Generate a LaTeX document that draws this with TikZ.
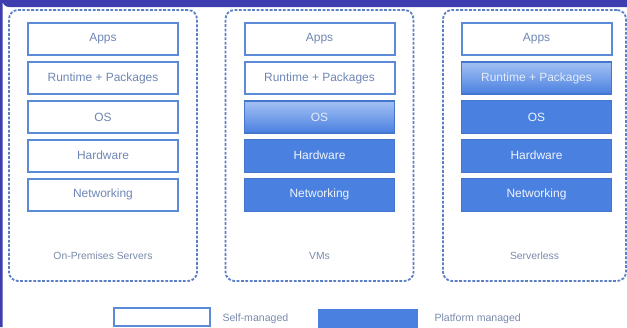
\documentclass[tikz,border=0pt]{standalone}
\usepackage{fontspec}
\setmainfont{Liberation Sans}
\definecolor{bandpurple}{HTML}{3D3DB0}
\definecolor{dashblue}{HTML}{5B7FC4}
\definecolor{edgeblue}{HTML}{5A8AD8}
\definecolor{fillblue}{HTML}{4A80E0}
\definecolor{txtgray}{HTML}{6F87B5}
\definecolor{lblgray}{HTML}{7A8AAA}
\definecolor{lighttop}{HTML}{A3C1F3}
\begin{document}
\begin{tikzpicture}[x=1bp,y=-1bp,
  selfbox/.style={draw=edgeblue,line width=2bp,fill=white,minimum width=150bp,minimum height=32bp,inner sep=0pt,text=txtgray,font=\fontsize{12}{14}\selectfont},
  platbox/.style={draw=fillblue!92!black,line width=1bp,fill=fillblue,minimum width=150bp,minimum height=33bp,inner sep=0pt,text=white!92!fillblue,font=\fontsize{12}{14}\selectfont},
  gradbox/.style={draw=fillblue!92!black,line width=1.5bp,top color=lighttop,bottom color=fillblue,minimum width=150bp,minimum height=32bp,inner sep=0pt,text=white!85!fillblue,font=\fontsize{12}{14}\selectfont},
  dashbox/.style={draw=dashblue,line width=1.8bp,dash pattern=on 2.8bp off 1.6bp,rounded corners=9bp,minimum width=188bp,minimum height=271bp,inner sep=0pt},
  lbl/.style={text=lblgray,font=\fontsize{10.4}{12}\selectfont},
  legtxt/.style={text=lblgray,font=\fontsize{10.6}{12}\selectfont,anchor=west}]
\useasboundingbox (0,0) rectangle (627,327);
\fill[white] (0,0) rectangle (627,327);
% purple frame
\fill[bandpurple] (0,0) -- (627,0) -- (627,7) -- (9,7) arc[start angle=90,end angle=180,radius=6.5] -- (2.5,327) -- (0,327) -- cycle;
% dashed containers
\node[dashbox] (c1) at (103,145.5) {};
\node[dashbox] (c2) at (319.5,145.5) {};
\node[dashbox,minimum width=183bp] (c3) at (534.5,145.5) {};
% column 1
\node[selfbox] (a1) at (103,39) {Apps};
\node[selfbox] (r1) at (103,78) {Runtime + Packages};
\node[selfbox] (o1) at (103,117) {OS};
\node[selfbox] (h1) at (103,155.5) {Hardware};
\node[selfbox] (n1) at (103,194.5) {Networking};
% column 2
\node[selfbox] (a2) at (319.5,39) {Apps};
\node[selfbox] (r2) at (319.5,78) {Runtime + Packages};
\node[gradbox] (o2) at (319.5,117) {OS};
\node[platbox] (h2) at (319.5,155.5) {Hardware};
\node[platbox] (n2) at (319.5,194.5) {Networking};
% column 3
\node[selfbox] (a3) at (536.5,39) {Apps};
\node[gradbox] (r3) at (536.5,78) {Runtime + Packages};
\node[platbox] (o3) at (536.5,117) {OS};
\node[platbox] (h3) at (536.5,155.5) {Hardware};
\node[platbox] (n3) at (536.5,194.5) {Networking};
% labels
\node[lbl] (l1) at (103,256) {On-Premises Servers};
\node[lbl] (l2) at (319.5,256) {VMs};
\node[lbl] (l3) at (534.5,256) {Serverless};
% legend
\node[draw=edgeblue,line width=2bp,fill=white,minimum width=96bp,minimum height=18bp,inner sep=0pt] (ls) at (161.5,317) {};
\node[legtxt] (lst) at (219,318.5) {Self-managed};
\node[fill=fillblue,minimum width=100bp,minimum height=19bp,inner sep=0pt] (lp) at (368,318) {};
\node[legtxt] (lpt) at (431,318.5) {Platform managed};
\end{tikzpicture}
\end{document}
